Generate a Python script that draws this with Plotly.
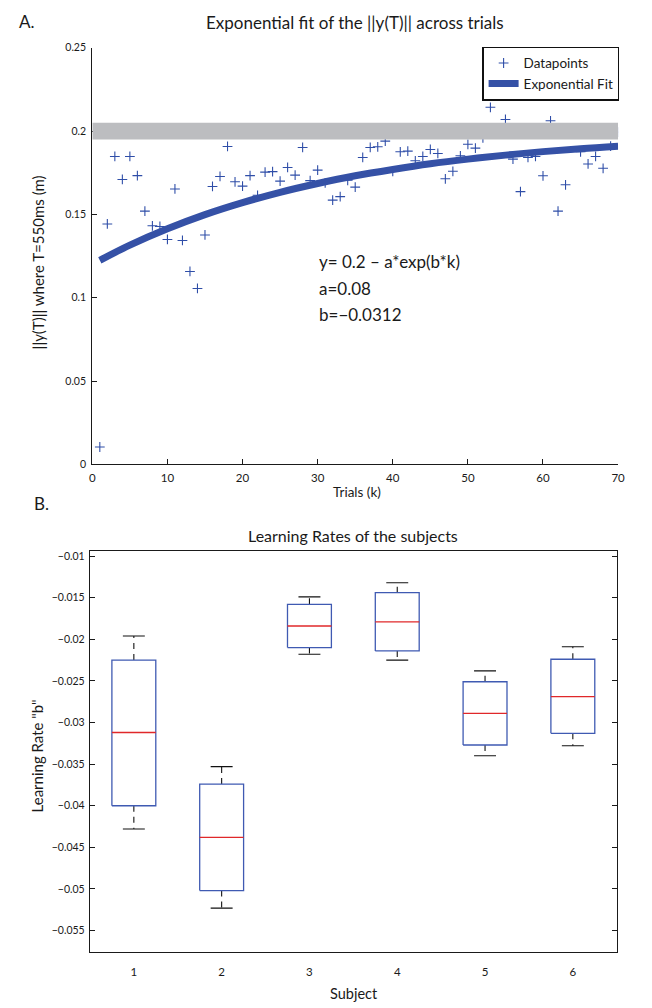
import plotly.graph_objects as go

# ---------------- Panel A data ----------------
trials = list(range(1, 71))
norm_y = [
    0.0105, 0.1443, 0.1848, 0.1710, 0.1848, 0.1733, 0.1520, 0.1432, 0.1428, 0.1350,
    0.1653, 0.1344, 0.1158, 0.1056, 0.1377, 0.1668, 0.1728, 0.1908, 0.1696, 0.1670,
    0.1733, 0.1615, 0.1754, 0.1757, 0.1700, 0.1782, 0.1736, 0.1902, 0.1703, 0.1766,
    0.1690, 0.1586, 0.1607, 0.1705, 0.1664, 0.1842, 0.1902, 0.1906, 0.1940, 0.1758,
    0.1876, 0.1880, 0.1822, 0.1848, 0.1890, 0.1866, 0.1714, 0.1759, 0.1852, 0.1921,
    0.1898, 0.1960, 0.2143, 0.2010, 0.2070, 0.1832, 0.1637, 0.1842, 0.1848, 0.1732,
    0.2062, 0.1520, 0.1678, 0.1990, 0.1876, 0.1803, 0.1848, 0.1777, 0.1910, 0.1994,
]
fit_k = [1, 5, 10, 15, 20, 25, 30, 35, 40, 45, 50, 55, 60, 65, 70]
fit_y = [0.1225, 0.1316, 0.1414, 0.1499, 0.1571, 0.1633, 0.1686, 0.1732,
         0.1770, 0.1804, 0.1832, 0.1856, 0.1877, 0.1895, 0.1910]
band_x = [0, 70]
band_y = [0.195, 0.205]
a_xticks = [0, 10, 20, 30, 40, 50, 60, 70]
a_yticks = [0, 0.05, 0.1, 0.15, 0.2, 0.25]
a_yticktext = ["0", "0.05", "0.1", "0.15", "0.2", "0.25"]
formula_lines = ["y= 0.2 – a*exp(b*k)", "a=0.08", "b=−0.0312"]

# ---------------- Panel B data ----------------
subjects = [1, 2, 3, 4, 5, 6]
upper_whisker = [-0.0196, -0.0353, -0.0149, -0.0132, -0.0238, -0.0209]
q3 = [-0.0225, -0.0374, -0.0158, -0.0144, -0.0251, -0.0224]
median = [-0.0312, -0.0438, -0.0184, -0.0179, -0.0289, -0.0269]
q1 = [-0.0400, -0.0502, -0.0210, -0.0214, -0.0327, -0.0313]
lower_whisker = [-0.0428, -0.0523, -0.0218, -0.0225, -0.0340, -0.0328]
b_yticks = [-0.055, -0.05, -0.045, -0.04, -0.035, -0.03, -0.025, -0.02, -0.015, -0.01]
b_yticktext = ["−0.055", "−0.05", "−0.045", "−0.04", "−0.035", "−0.03",
               "−0.025", "−0.02", "−0.015", "−0.01"]

# ---------------- style ----------------
W, H = 652, 1008
FONT = "Lato, 'Open Sans', sans-serif"
BLUE_PT = "#2f4ea8"
BLUE_LINE = "#3551a6"
BOX_BLUE = "#3f5ab2"
RED = "#e0282a"
GRAY = "#bcbdc0"
TXT = "#1a1a1a"
BOX_W = 0.5
CAP_W = 0.25


def px(xp):
    return xp / W


def py(yp):
    return 1 - yp / H


fig = go.Figure()

# Panel A traces
fig.add_trace(go.Scatter(
    x=trials, y=norm_y, mode="markers", name="Datapoints",
    marker=dict(symbol="cross-thin", size=7, color=BLUE_PT,
                line=dict(width=1.1, color=BLUE_PT)),
    xaxis="x", yaxis="y"))
fig.add_trace(go.Scatter(
    x=fit_k, y=fit_y, mode="lines", name="Exponential Fit",
    line=dict(color=BLUE_LINE, width=7, shape="spline"),
    xaxis="x", yaxis="y"))

fig.add_shape(type="rect", xref="x", yref="y",
              x0=band_x[0], x1=band_x[1], y0=band_y[0], y1=band_y[1],
              fillcolor=GRAY, line=dict(width=0), layer="above")

# Panel B: box plots built from the summary statistics
bx, by, wx, wy, cx, cy, mx, my = [], [], [], [], [], [], [], []
for s, uw, a3, m, a1, lw in zip(subjects, upper_whisker, q3, median, q1, lower_whisker):
    bx += [s - BOX_W / 2, s + BOX_W / 2, s + BOX_W / 2, s - BOX_W / 2, s - BOX_W / 2, None]
    by += [a1, a1, a3, a3, a1, None]
    wx += [s, s, None, s, s, None]
    wy += [a3, uw, None, a1, lw, None]
    cx += [s - CAP_W / 2, s + CAP_W / 2, None, s - CAP_W / 2, s + CAP_W / 2, None]
    cy += [uw, uw, None, lw, lw, None]
    mx += [s - BOX_W / 2, s + BOX_W / 2, None]
    my += [m, m, None]

fig.add_trace(go.Scatter(x=wx, y=wy, mode="lines", showlegend=False,
                         line=dict(color="#111111", width=1.1, dash="6px,5px"),
                         xaxis="x2", yaxis="y2", hoverinfo="skip"))
fig.add_trace(go.Scatter(x=cx, y=cy, mode="lines", showlegend=False,
                         line=dict(color="#111111", width=1.1),
                         xaxis="x2", yaxis="y2", hoverinfo="skip"))
fig.add_trace(go.Scatter(x=bx, y=by, mode="lines", showlegend=False,
                         line=dict(color=BOX_BLUE, width=1.3),
                         xaxis="x2", yaxis="y2", hoverinfo="skip"))
fig.add_trace(go.Scatter(x=mx, y=my, mode="lines", showlegend=False,
                         line=dict(color=RED, width=1.3),
                         xaxis="x2", yaxis="y2", hoverinfo="skip"))

axis_common = dict(showgrid=False, zeroline=False, showline=True,
                   linecolor="#1a1a1a", linewidth=1.3,
                   tickcolor="#1a1a1a")

fig.update_layout(
    width=W, height=H,
    margin=dict(l=0, r=0, t=0, b=0),
    paper_bgcolor="white", plot_bgcolor="white",
    font=dict(family=FONT, color=TXT),
    xaxis=dict(domain=[px(90.7), px(624.7)], range=[0, 70], anchor="y",
               tickmode="array", tickvals=a_xticks, ticks="inside", ticklen=5,
               ticklabelstandoff=3,
               tickfont=dict(family=FONT, size=11.5, color=TXT), **axis_common),
    yaxis=dict(domain=[py(464), py(42.3)], range=[0, 0.25], anchor="x",
               tickmode="array", tickvals=a_yticks, ticktext=a_yticktext,
               ticks="inside", ticklen=5, ticklabelstandoff=3,
               tickfont=dict(family=FONT, size=10.5, color=TXT), **axis_common),
    xaxis2=dict(domain=[px(88.3), px(623.3)], range=[0.5, 6.5], anchor="y2",
                tickmode="array", tickvals=subjects, ticks="", mirror=True,
                ticklabelstandoff=9,
                tickfont=dict(family=FONT, size=11.5, color=TXT), **axis_common),
    yaxis2=dict(domain=[py(957), py(551.5)], range=[-0.05753, -0.00938], anchor="x2",
                tickmode="array", tickvals=b_yticks, ticktext=b_yticktext,
                ticks="inside", ticklen=5, mirror="ticks", ticklabelstandoff=2,
                tickfont=dict(family=FONT, size=10.5, color=TXT), **axis_common),
    legend=dict(x=px(626), y=py(41), xanchor="right", yanchor="top",
                bgcolor="white", bordercolor="#111111", borderwidth=1.2,
                font=dict(family=FONT, size=13.5, color=TXT),
                tracegroupgap=0, itemwidth=30),
    showlegend=True,
)

ann = []
# panel letters
ann.append(dict(text="A.", x=px(14), y=py(16), xanchor="left", yanchor="middle",
                font=dict(size=17)))
ann.append(dict(text="B.", x=px(29), y=py(503), xanchor="left", yanchor="middle",
                font=dict(size=17)))
# titles
ann.append(dict(text="Exponential fit of the ||y(T)|| across trials",
                x=px(357.7), y=py(17), xanchor="center", yanchor="middle",
                font=dict(size=17)))
ann.append(dict(text="Learning Rates of the subjects",
                x=px(355), y=py(536), xanchor="center", yanchor="middle",
                font=dict(size=16)))
# axis titles
ann.append(dict(text="Trials (k)", x=px(360), y=py(492), xanchor="center",
                yanchor="middle", font=dict(size=13.5)))
ann.append(dict(text="Subject", x=px(356), y=py(999), xanchor="center",
                yanchor="middle", font=dict(size=14.5)))
ann.append(dict(text="||y(T)|| where T=550ms (m)", x=px(35), y=py(259),
                xanchor="center", yanchor="middle", textangle=-90,
                font=dict(size=15)))
ann.append(dict(text='Learning Rate "b"', x=px(35), y=py(759),
                xanchor="center", yanchor="middle", textangle=-90,
                font=dict(size=15)))
# formula text
for line, yp in zip(formula_lines, [259, 286, 312]):
    ann.append(dict(text=line, x=px(319), y=py(yp), xanchor="left",
                    yanchor="middle", font=dict(size=17)))

for a in ann:
    a.update(xref="paper", yref="paper", showarrow=False)
    a.setdefault("font", {})
    a["font"].setdefault("family", FONT)
    a["font"].setdefault("color", TXT)
fig.update_layout(annotations=ann)

fig.write_html("out.html", config={"displayModeBar": False},
               post_script="document.body.style.margin='0';document.body.style.padding='0';")
